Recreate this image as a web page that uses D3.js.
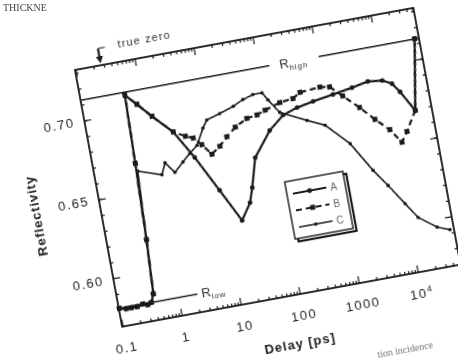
<!DOCTYPE html>
<html lang="en">
<head>
<meta charset="UTF-8">
<title>Reflectivity vs delay</title>
<script src="https://cdn.jsdelivr.net/npm/d3@7"></script>
<style>
  body { margin: 0; background: #fff; }
  svg { display: block; font-family: "Liberation Sans", Arial, sans-serif; }
</style>
</head>
<body>
<svg id="chart" width="458" height="362"></svg>
<script>
// delay in ps, reflectivity
var delayA = [0.10, 0.13, 0.16, 0.20, 0.25, 0.30, 0.35, 0.40, 0.45, 0.50, 0.54, 0.80, 1.3, 2.6, 4.9, 10, 19, 29, 35, 48, 100, 185, 330, 630, 1400, 3000, 5700, 9900, 14000, 18000, 28000, 45000];
var reflA  = [0.581, 0.580, 0.580, 0.580, 0.581, 0.580, 0.581, 0.586, 0.620, 0.668, 0.711, 0.704, 0.695, 0.683, 0.665, 0.642, 0.621, 0.631, 0.640, 0.658, 0.673, 0.681, 0.684, 0.686, 0.688, 0.690, 0.692, 0.691, 0.688, 0.682, 0.669, 0.713];

var delayB = [0.10, 0.13, 0.16, 0.20, 0.25, 0.30, 0.35, 0.40, 0.45, 0.50, 0.54, 0.80, 1.3, 2.6, 4.0, 5.3, 7.0, 9.6, 13.7, 19, 28, 46, 69, 97, 178, 300, 410, 900, 1300, 2000, 3500, 5750, 9400, 13600, 17700, 28000, 45000];
var reflB  = [0.581, 0.580, 0.580, 0.580, 0.581, 0.580, 0.581, 0.586, 0.620, 0.668, 0.711, 0.704, 0.695, 0.683, 0.679, 0.677, 0.672, 0.665, 0.669, 0.674, 0.679, 0.683, 0.684, 0.686, 0.689, 0.690, 0.693, 0.694, 0.693, 0.686, 0.677, 0.668, 0.660, 0.651, 0.657, 0.669, 0.713];

var delayC = [0.10, 0.13, 0.16, 0.20, 0.25, 0.30, 0.35, 0.40, 0.45, 0.52, 1.26, 1.54, 2.1, 3.05, 4.2, 5.8, 8.2, 10, 17, 30, 45, 68, 97, 116, 166, 441, 841, 1900, 3760, 5980, 10000, 14900, 28500, 45500];
var reflC  = [0.581, 0.580, 0.580, 0.580, 0.581, 0.580, 0.581, 0.586, 0.620, 0.663, 0.658, 0.665, 0.658, 0.6635, 0.668, 0.672, 0.682, 0.6865, 0.689, 0.692, 0.695, 0.697, 0.697, 0.692, 0.683, 0.675, 0.670, 0.656, 0.637, 0.626, 0.613, 0.603, 0.595, 0.592];

var seriesNames = ["A", "B", "C"];
var xTicks = [0.1, 1, 10, 100, 1000, 10000];
var xTickLabels = ["0.1", "1", "10", "100", "1000", "10^4"];
var yTicks = [0.60, 0.65, 0.70];
var yTickLabels = ["0.60", "0.65", "0.70"];

var rHigh = 0.7128, rLow = 0.581, trueZero = 0.27;

var width = 344, height = 261;
var ink = "#1a1a1a";

var svg = d3.select("#chart");
svg.append("rect").attr("width", 458).attr("height", 362).attr("fill", "#fff");
svg.append("defs").append("filter").attr("id", "soft")
    .append("feGaussianBlur").attr("stdDeviation", 0.65);

// bits of the surrounding page text
svg.append("text").attr("x", 3).attr("y", 11)
    .attr("font-family", "Liberation Serif, serif").attr("font-size", 10).attr("fill", "#444")
    .attr("filter", "url(#soft)").text("THICKNE");
svg.append("text").attr("x", 378).attr("y", 358).attr("transform", "rotate(-10.4 378 358)")
    .attr("font-family", "Liberation Serif, serif").attr("font-size", 10).attr("fill", "#777")
    .attr("filter", "url(#soft)").text("tion incidence");

// the scanned figure is tilted on the page
var g = svg.append("g")
    .attr("transform", "translate(75,70) rotate(-10.4)")
    .attr("filter", "url(#soft)");

var x = d3.scaleLog().domain([0.098, 53000]).range([0, width]);
var y = d3.scaleLinear().domain([0.5694, 0.732]).range([height, 0]);

var minorX = [];
xTicks.forEach(function (d) {
    for (var k = 2; k < 10; k++) if (d * k < 53000) minorX.push(d * k);
});
var minorY = d3.range(0.57, 0.7301, 0.01);

function styleAxis(sel) {
    sel.select(".domain").remove();
    sel.selectAll("line").attr("stroke", ink).attr("stroke-width", 1.2);
    sel.selectAll("text").attr("font-size", 13).attr("letter-spacing", 1.5).attr("fill", "#222");
}

// bottom
g.append("g").attr("transform", "translate(0," + height + ")")
    .call(d3.axisBottom(x).tickValues(minorX).tickSize(-3).tickSizeOuter(0).tickFormat(""))
    .call(styleAxis);
var bottom = g.append("g").attr("transform", "translate(0," + height + ")")
    .call(d3.axisBottom(x).tickValues(xTicks).tickSize(-7).tickSizeOuter(0).tickPadding(17)
        .tickFormat(function (d, i) { return xTickLabels[i]; }))
    .call(styleAxis);
bottom.selectAll(".tick text").filter(function (d) { return d === 10000; })
    .text("10").append("tspan").attr("dy", "-0.55em").attr("font-size", 9).text("4");

// top
g.append("g")
    .call(d3.axisTop(x).tickValues(minorX).tickSize(-3).tickSizeOuter(0).tickFormat(""))
    .call(styleAxis);
g.append("g")
    .call(d3.axisTop(x).tickValues(xTicks).tickSize(-7).tickSizeOuter(0).tickFormat(""))
    .call(styleAxis);

// left
g.append("g")
    .call(d3.axisLeft(y).tickValues(minorY).tickSize(-3).tickSizeOuter(0).tickFormat(""))
    .call(styleAxis);
g.append("g")
    .call(d3.axisLeft(y).tickValues(yTicks).tickSize(-7).tickSizeOuter(0).tickPadding(10)
        .tickFormat(function (d, i) { return yTickLabels[i]; }))
    .call(styleAxis);

// right
g.append("g").attr("transform", "translate(" + width + ",0)")
    .call(d3.axisRight(y).tickValues(minorY).tickSize(-3).tickSizeOuter(0).tickFormat(""))
    .call(styleAxis);
g.append("g").attr("transform", "translate(" + width + ",0)")
    .call(d3.axisRight(y).tickValues(yTicks).tickSize(-7).tickSizeOuter(0).tickFormat(""))
    .call(styleAxis);

g.append("rect").attr("width", width).attr("height", height)
    .attr("fill", "none").attr("stroke", ink).attr("stroke-width", 1.8);

// axis titles
g.append("text").attr("x", width / 2).attr("y", 314).attr("text-anchor", "middle")
    .attr("font-size", 13).attr("font-weight", "bold").attr("letter-spacing", 1).attr("fill", "#222")
    .text("Delay [ps]");
g.append("text").attr("transform", "translate(-60," + (height / 2 + 6) + ") rotate(-90)")
    .attr("text-anchor", "middle").attr("font-size", 13).attr("font-weight", "bold")
    .attr("letter-spacing", 1).attr("fill", "#222").text("Reflectivity");

// R_high and R_low reference levels
g.append("line").attr("x1", 0).attr("x2", 192).attr("y1", y(rHigh)).attr("y2", y(rHigh))
    .attr("stroke", ink).attr("stroke-width", 1.5);
g.append("line").attr("x1", 242).attr("x2", width).attr("y1", y(rHigh)).attr("y2", y(rHigh))
    .attr("stroke", ink).attr("stroke-width", 1.5);
var hiLabel = g.append("text").attr("x", 202).attr("y", y(rHigh) + 5)
    .attr("font-size", 13).attr("fill", "#333").text("R");
hiLabel.append("tspan").attr("dy", 3).attr("font-size", 8).attr("letter-spacing", 1).text("high");

g.append("line").attr("x1", 0).attr("x2", 80).attr("y1", y(rLow)).attr("y2", y(rLow))
    .attr("stroke", ink).attr("stroke-width", 1.5);
var loLabel = g.append("text").attr("x", 84).attr("y", y(rLow) + 5)
    .attr("font-size", 13).attr("fill", "#333").text("R");
loLabel.append("tspan").attr("dy", 3).attr("font-size", 8).attr("letter-spacing", 1).text("low");

// true zero marker
var tz = x(trueZero);
g.append("line").attr("x1", tz).attr("x2", tz).attr("y1", -17).attr("y2", -8)
    .attr("stroke", ink).attr("stroke-width", 2.2);
g.append("line").attr("x1", tz).attr("x2", tz + 7).attr("y1", -17).attr("y2", -17)
    .attr("stroke", ink).attr("stroke-width", 1);
g.append("path").attr("d", "M" + (tz - 3.5) + ",-9L" + (tz + 3.5) + ",-9L" + tz + ",-2Z").attr("fill", ink);
g.append("text").attr("x", tz + 20).attr("y", -14).attr("font-size", 11)
    .attr("letter-spacing", 1.2).attr("fill", "#333").text("true zero");

// data series
var styles = {
    A: { dash: null, width: 2.2, marker: "circle", size: 2.4 },
    B: { dash: "6,4", width: 2.2, marker: "square", size: 5 },
    C: { dash: null, width: 1.6, marker: "circle", size: 1.8 }
};
var data = {
    A: delayA.map(function (d, i) { return [d, reflA[i]]; }),
    B: delayB.map(function (d, i) { return [d, reflB[i]]; }),
    C: delayC.map(function (d, i) { return [d, reflC[i]]; })
};
var line = d3.line().x(function (d) { return x(d[0]); }).y(function (d) { return y(d[1]); });

function drawMarker(sel, st) {
    if (st.marker === "square") {
        sel.append("rect").attr("x", -st.size / 2).attr("y", -st.size / 2)
            .attr("width", st.size).attr("height", st.size).attr("fill", ink);
    } else {
        sel.append("circle").attr("r", st.size).attr("fill", ink);
    }
}

seriesNames.forEach(function (name) {
    var st = styles[name];
    g.append("path").datum(data[name]).attr("d", line)
        .attr("fill", "none").attr("stroke", ink).attr("stroke-width", st.width)
        .attr("stroke-dasharray", st.dash);
    g.append("g").selectAll("g").data(data[name]).join("g")
        .attr("transform", function (d) { return "translate(" + x(d[0]) + "," + y(d[1]) + ")"; })
        .each(function () { drawMarker(d3.select(this), st); });
});

// legend
var lg = g.append("g").attr("transform", "translate(186,148)");
lg.append("rect").attr("x", 3).attr("y", 3).attr("width", 59).attr("height", 58)
    .attr("fill", "none").attr("stroke", ink).attr("stroke-width", 2.2);
lg.append("rect").attr("width", 59).attr("height", 58)
    .attr("fill", "#fff").attr("stroke", ink).attr("stroke-width", 1.4);
seriesNames.forEach(function (name, i) {
    var st = styles[name];
    var row = lg.append("g").attr("transform", "translate(0," + (13 + i * 17) + ")");
    row.append("line").attr("x1", 6).attr("x2", 40).attr("stroke", ink)
        .attr("stroke-width", st.width).attr("stroke-dasharray", st.dash);
    drawMarker(row.append("g").attr("transform", "translate(23,0)"), st);
    row.append("text").attr("x", 44).attr("y", 4).attr("font-size", 10)
        .attr("fill", "#666").text(name);
});
</script>
</body>
</html>
